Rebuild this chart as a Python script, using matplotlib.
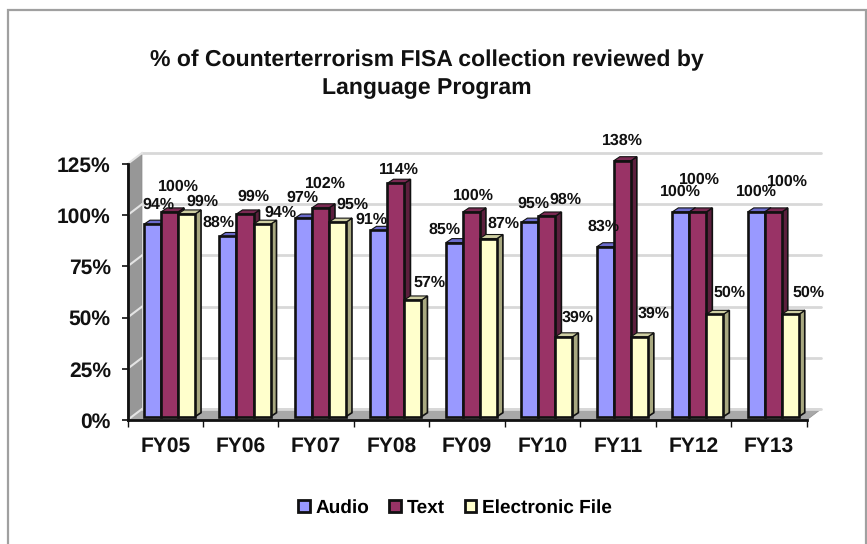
import numpy as np
import matplotlib
matplotlib.use("Agg")
import matplotlib.pyplot as plt
from matplotlib.patches import Polygon, Rectangle
from matplotlib.transforms import Affine2D, IdentityTransform

# ---- data ----
years = ["FY05", "FY06", "FY07", "FY08", "FY09", "FY10", "FY11", "FY12", "FY13"]
audio = [94, 88, 97, 91, 85, 95, 83, 100, 100]
text_ = [100, 99, 102, 114, 100, 98, 138, 100, 100]
efile = [99, 94, 95, 57, 87, 39, 39, 50, 50]
series_names = ["Audio", "Text", "Electronic File"]
y_ticks = [0, 25, 50, 75, 100, 125]

# ---- styles ----
front = ["#9999ff", "#993366", "#ffffcc"]
tops = ["#6b6bcc", "#7a2952", "#cfcfa3"]
sides = ["#5c5ca8", "#5c1f3d", "#a8a880"]
# label offsets from top centre of each bar, in pixels (per series, per year)
label_off = [
    [(5.5, 19.5), (-9, 13.7), (-1.5, 20), (-7, 10.6), (-10, 13), (4, 18.4), (-1.4, 20), (0, 20), (0, 20)],
    [(8.5, 25), (8, 17), (4.5, 24), (3, 13.6), (1.6, 16), (19, 16), (0, 20), (2, 32), (14, 30)],
    [(15.5, 12), (18, 11.5), (14.5, 17.4), (17, 17), (15.6, 14.8), (14, 19), (14.6, 23), (15, 21.5), (18, 21.5)],
]
W, H = 867, 544
L, R, T, B = 127.5, 806.7, 164.0, 420.0
DX, DY = 14.5, 11.0      # back wall depth (px)
BX, BY = 4.3, 3.3        # bar shift from front axis (px)
bx, by = 6.0, 4.0        # bar depth (px)
BAR = 0.2253

plt.rcParams["font.family"] = ["Liberation Sans", "DejaVu Sans"]
plt.rcParams["font.weight"] = "bold"
plt.rcParams["text.hinting"] = "no_hinting"
plt.rcParams["text.hinting_factor"] = 1

fig = plt.figure(figsize=(W / 100, H / 100), dpi=100, facecolor="white")
fig.add_artist(Rectangle((8 / W, -0.02), (866 - 8) / W, 1.02 - 10 / H, transform=fig.transFigure,
                         fill=False, edgecolor="#a0a0a0", linewidth=1.6))
ax = fig.add_axes([L / W, (H - B) / H, (R - L) / W, (B - T) / H])
ax.patch.set_alpha(0)
ax.set_xlim(-0.5, len(years) - 0.5)
ax.set_ylim(0, 125)


def pts(coords):
    """(x, y, dx_px, dy_px) -> display coordinates through the axes scales."""
    out = []
    for x, y, dx, dy in coords:
        px, py = ax.transData.transform((x, y))
        out.append((px + dx, py + dy))
    return out


def poly(coords, z, **kw):
    ax.add_patch(Polygon(pts(coords), closed=True, transform=IdentityTransform(),
                         clip_on=False, zorder=z, **kw))


x0, x1 = -0.5, len(years) - 0.5
# wall and floor
poly([(x0, 0, 0, 0), (x0, 125, 0, 0), (x0, 125, DX, DY), (x0, 0, DX, DY)], 1,
     facecolor="#979797", edgecolor="#8a8a8a", linewidth=0.5)
poly([(x0, 0, 0, 0), (x1, 0, 0, 0), (x1, 0, DX, DY), (x0, 0, DX, DY)], 1,
     facecolor="#a8a8a8", edgecolor="#909090", linewidth=0.5)
# gridlines on back and side wall
for v in y_ticks:
    (a, b) = pts([(x0, v, DX, DY), (x1, v, DX, DY)])
    ax.plot([a[0], b[0]], [a[1], b[1]], transform=IdentityTransform(), color="#d8d8d8",
            lw=2.0, clip_on=False, zorder=1.2, solid_capstyle="round")
    (c, d) = pts([(x0, v, 0, 0), (x0, v, DX, DY)])
    ax.plot([c[0], d[0]], [c[1], d[1]], transform=IdentityTransform(), color="#e4e4e4",
            lw=1.5, clip_on=False, zorder=1.3)

# bars
shift = ax.transData + Affine2D().translate(BX, BY)
series = [audio, text_, efile]
z = 3.0
for i in range(len(years)):
    for j, vals in enumerate(series):
        v = min(vals[i], 125)
        xc = i + (j - 1) * BAR
        xl, xr = xc - BAR / 2, xc + BAR / 2
        poly([(xr, 0, BX, BY), (xr, v, BX, BY), (xr, v, BX + bx, BY + by), (xr, 0, BX + bx, BY + by)], z,
             facecolor=sides[j], edgecolor="#111111", linewidth=1.2)
        poly([(xl, v, BX, BY), (xr, v, BX, BY), (xr, v, BX + bx, BY + by), (xl, v, BX + bx, BY + by)], z,
             facecolor=tops[j], edgecolor="#111111", linewidth=0.8)
        ax.bar(xc, v, BAR, color=front[j], edgecolor="#111111", linewidth=1.9,
               transform=shift, clip_on=False, zorder=z + 0.1)
        z += 0.2

# value labels
for j, vals in enumerate(series):
    for i, val in enumerate(vals):
        ax.annotate(f"{val}%", xy=(i + (j - 1) * BAR, min(val, 125)), xycoords=shift,
                    xytext=label_off[j][i], textcoords="offset pixels", ha="center", va="center",
                    fontsize=11.4, fontweight="bold", color="#111111", zorder=50)

# axes
for s in ("top", "right"):
    ax.spines[s].set_visible(False)
for s in ("left", "bottom"):
    ax.spines[s].set_linewidth(2.0)
    ax.spines[s].set_color("#111111")
    ax.spines[s].set_zorder(20)
ax.set_yticks(y_ticks)
ax.set_yticklabels([f"{v}%" for v in y_ticks], fontsize=15, fontweight="bold", color="#111111")
ax.set_xticks(np.arange(len(years) + 1) - 0.5)
ax.set_xticklabels([])
ax.set_xticks(np.arange(len(years)), minor=True)
ax.set_xticklabels(years, minor=True, fontsize=14.8, fontweight="bold", color="#111111")
ax.tick_params(axis="x", which="minor", length=0, pad=12)
ax.tick_params(axis="x", which="major", length=5, width=1.0, color="#111111")
ax.tick_params(axis="y", length=4, width=1.2, color="#111111", pad=8)

# title
fig.text(426.5 / W, 1 - 60 / H, "% of Counterterrorism FISA collection reviewed by", ha="center", va="center",
         fontsize=16.85, fontweight="bold", color="#111111")
fig.text(426.5 / W, 1 - 88 / H, "Language Program", ha="center", va="center",
         fontsize=16.85, fontweight="bold", color="#111111")

# legend
handles = [Rectangle((0, 0), 1, 1, facecolor=c, edgecolor="#111111", linewidth=2.0) for c in front]
fig.legend(handles, series_names, ncol=3, loc="center", bbox_to_anchor=(455 / W, 1 - 508 / H),
           frameon=False, fontsize=13.6, handlelength=0.62, handleheight=0.62,
           handletextpad=0.3, columnspacing=1.05, borderpad=0)

fig.savefig("out.png", dpi=100)
